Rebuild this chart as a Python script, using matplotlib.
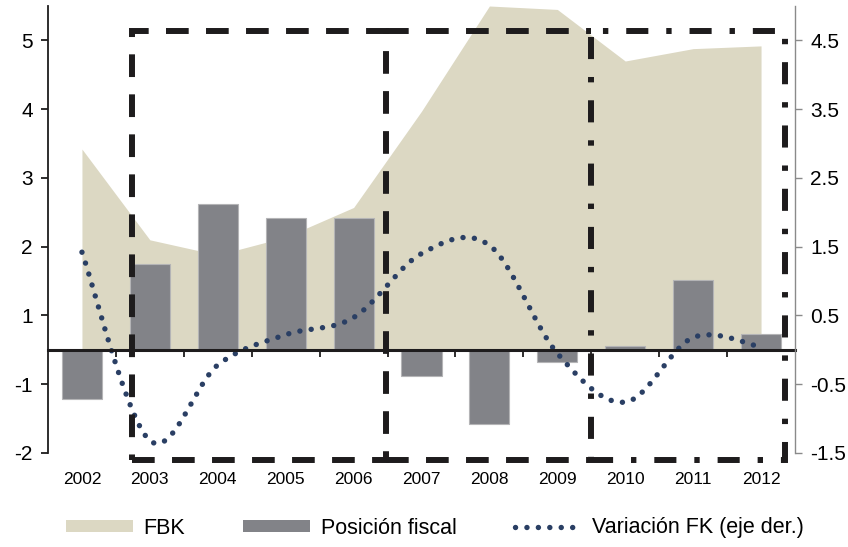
import numpy as np
import matplotlib
matplotlib.use("Agg")
import matplotlib.pyplot as plt
from matplotlib.patches import Rectangle, Patch
from matplotlib.lines import Line2D

plt.rcParams['font.family'] = ['Liberation Sans', 'DejaVu Sans']

# data (in the plotting units of the right axis)
years = ['2002', '2003', '2004', '2005', '2006', '2007',
         '2008', '2009', '2010', '2011', '2012']
fbk = [2.92, 1.60, 1.38, 1.64, 2.07, 3.47, 5.00, 4.95, 4.20, 4.38, 4.42]
posicion_fiscal = [-0.71, 1.25, 2.12, 1.92, 1.92, -0.38, -1.08, -0.18, 0.06, 1.02, 0.23]
variacion_fk = [1.42, -1.32, -0.22, 0.22, 0.47, 1.40, 1.52, -0.05, -0.76, 0.18, 0.04]

left_labels = ['5', '4', '3', '2', '1', '-1', '-2']
right_labels = ['4.5', '3.5', '2.5', '1.5', '0.5', '-0.5', '-1.5']
tick_pos = [4.5, 3.5, 2.5, 1.5, 0.5, -0.5, -1.5]

c_area = '#dcd8c3'
c_bar = '#828388'
c_dot = '#2a3f64'
c_dark = '#1e1c1d'


def smooth(xs, ys, n=40):
    # Excel-like smoothed line: bezier segments through the points
    pts = np.column_stack([xs, ys]).astype(float)
    p = np.vstack([pts[0], pts, pts[-1]])
    t = np.linspace(0, 1, n)[:, None]
    out = []
    for i in range(1, len(p) - 2):
        p0, p1, p2, p3 = p[i - 1], p[i], p[i + 1], p[i + 2]
        c1 = p1 + (p2 - p0) / 6
        c2 = p2 - (p3 - p1) / 6
        seg = (1 - t) ** 3 * p1 + 3 * (1 - t) ** 2 * t * c1 + 3 * (1 - t) * t ** 2 * c2 + t ** 3 * p2
        out.append(seg if i == 1 else seg[1:])
    return np.vstack(out)


fig = plt.figure(figsize=(8.48, 5.47), dpi=100)
ax = fig.add_axes([48 / 848, 1 - 453 / 547, 747 / 848, 447 / 547])
x = np.arange(len(years))

ax.fill_between(x, 0, fbk, color=c_area, lw=0, zorder=1)
ax.bar(x, posicion_fiscal, width=0.59, color=c_bar, edgecolor='#b4b4b6', linewidth=0.8, zorder=2)

dot_style = dict(color=c_dot, lw=3.9, linestyle=(0, (0.01, 2.1)), dash_capstyle='round')
curve = smooth(x, variacion_fk)
ax.plot(curve[:, 0], curve[:, 1], zorder=3, **dot_style)

# dashed boxes
y0, y1 = -1.60, 4.64
xa, xb, xc, xd = 0.742, 4.478, 7.497, 10.354
dash = (0, (3.8, 2.9))
dashdot = (0, (3.7, 3.0, 0.9, 3.0))
box_kw = dict(fill=False, edgecolor=c_dark, lw=4.3, clip_on=False, zorder=5, capstyle='butt')
line_kw = dict(color=c_dark, lw=4.3, clip_on=False, zorder=5, dash_capstyle='butt')
ax.add_patch(Rectangle((xa, y0), xb - xa, y1 - y0, linestyle=dash, **box_kw))
ax.plot([xb, xc], [y1, y1], linestyle=dash, **line_kw)
ax.plot([xb, xc], [y0, y0], linestyle=dash, **line_kw)
ax.add_patch(Rectangle((xc, y0), xd - xc, y1 - y0, linestyle=dashdot, **box_kw))

ax.set_xlim(-0.5, 10.5)
ax.set_ylim(-1.5, 5.0)

# axes look
ax.spines['top'].set_visible(False)
ax.spines['right'].set_visible(False)
ax.spines['left'].set_linewidth(1.3)
ax.spines['left'].set_color(c_dark)
ax.spines['bottom'].set_position(('data', 0))
ax.spines['bottom'].set_linewidth(2.2)
ax.spines['bottom'].set_color(c_dark)
ax.spines['bottom'].set_zorder(4)

ax.set_xticks(x)
ax.set_xticklabels(years, fontsize=12.5)
ax.set_xticks(np.arange(0.5, 10.5, 1), minor=True)
ax.tick_params(axis='x', which='major', length=0, pad=88)
ax.tick_params(axis='x', which='minor', length=5, width=1.3, direction='out', color=c_dark)

ax.set_yticks(tick_pos)
ax.set_yticklabels(left_labels, fontsize=15)
ax.tick_params(axis='y', length=5, width=1.3, pad=6, color=c_dark)

ax2 = ax.twinx()
ax2.set_ylim(-1.5, 5.0)
ax2.set_yticks(tick_pos)
ax2.set_yticklabels(right_labels, fontsize=15)
for s in ['top', 'left', 'bottom']:
    ax2.spines[s].set_visible(False)
ax2.spines['right'].set_color('#8a8a8a')
ax2.spines['right'].set_linewidth(1.0)
ax2.tick_params(axis='y', length=5, width=1.0, pad=6, color='#8a8a8a')

handles = [Patch(facecolor=c_area, edgecolor='none'),
           Patch(facecolor=c_bar, edgecolor='none'),
           Line2D([], [], **dot_style)]
labels = ['FBK', 'Posición fiscal', 'Variación FK (eje der.)']
fig.legend(handles, labels, loc='center left', bbox_to_anchor=(66 / 848, 1 - 528 / 547),
           ncol=3, frameon=False, fontsize=15.5, handlelength=3.1, handleheight=0.5,
           handletextpad=0.5, columnspacing=2.7, borderpad=0, borderaxespad=0)

fig.savefig('out.png', dpi=100)
